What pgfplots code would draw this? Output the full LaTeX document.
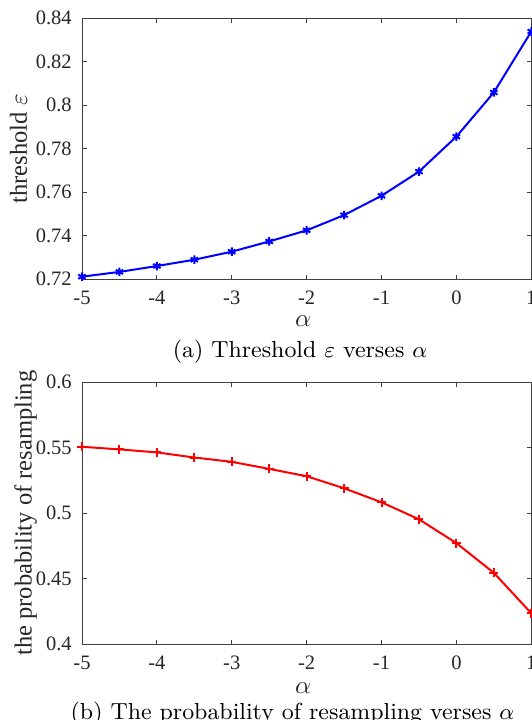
\documentclass[border=0pt]{standalone}
\usepackage{fontspec}
\newfontfamily\tnr{Liberation Serif}
\usepackage{pgfplots}
\pgfplotsset{compat=1.18}
\definecolor{axgray}{gray}{0.25}
\pgfplotsset{
  myaxis/.style={
    scale only axis,
    width=179.7pt,
    xmin=-5, xmax=1,
    xtick={-5,-4,-3,-2,-1,0,1},
    xticklabels={-5,-4,-3,-2,-1,0,1},
    tick align=inside,
    major tick length=1.8pt,
    axis line style={axgray, line width=0.4pt},
    every tick/.style={axgray, line width=0.4pt},
    tick label style={font=\tnr\fontsize{8.2}{9.8}\selectfont, text=black!85},
    xticklabel style={yshift=-1.2pt},
    yticklabel style={xshift=-0.6pt},
    label style={font=\tnr\fontsize{9.8}{11.5}\selectfont, text=black!85},
    xlabel style={at={(axis description cs:0.5,0)}, anchor=base, xshift=-1.4pt},
    ylabel style={at={(axis description cs:0,0.5)}, anchor=base},
    clip=false,
    /pgf/number format/assume math mode=true,
  }
}
\begin{document}
\begin{tikzpicture}
\useasboundingbox (0,0) rectangle (212.8pt,-288pt);
\begin{axis}[myaxis,
  at={(32.8pt,-111.72pt)}, anchor=south west,
  height=104.4pt,
  ymin=0.72, ymax=0.84,
  ytick={0.72,0.74,0.76,0.78,0.8,0.82,0.84},
  yticklabels={0.72,0.74,0.76,0.78,0.8,0.82,0.84},
  xlabel={$\alpha$},
  xlabel style={yshift=-18.9pt},
  ylabel={threshold $\varepsilon$},
  ylabel style={xshift=0pt, yshift=22pt},
]
\addplot[blue, line width=0.8pt, mark=asterisk, mark size=1.7pt, mark options={line width=0.8pt}] coordinates {
(-5,0.7212) (-4.5,0.7234) (-4,0.7261) (-3.5,0.7290) (-3,0.7327) (-2.5,0.7374)
(-2,0.7425) (-1.5,0.7495) (-1,0.7584) (-0.5,0.7695) (0,0.7856) (0.5,0.8059) (1,0.8339)
};
\end{axis}
\node[font=\fontsize{9.3}{11}\selectfont, anchor=base] at (120pt,-143.2pt) {(a) Threshold $\varepsilon$ verses $\alpha$};
\begin{axis}[myaxis,
  at={(32.8pt,-257.6pt)}, anchor=south west,
  height=104.7pt,
  ymin=0.4, ymax=0.6,
  ytick={0.4,0.45,0.5,0.55,0.6},
  yticklabels={0.4,0.45,0.5,0.55,0.6},
  xlabel={$\alpha$},
  xlabel style={yshift=-19.6pt},
  ylabel={the probability of resampling},
  ylabel style={yshift=20.2pt},
]
\addplot[red, line width=0.8pt, mark=+, mark size=1.8pt, mark options={line width=0.8pt}] coordinates {
(-5,0.5507) (-4.5,0.5487) (-4,0.5464) (-3.5,0.5425) (-3,0.5392) (-2.5,0.5338)
(-2,0.5282) (-1.5,0.5190) (-1,0.5083) (-0.5,0.4953) (0,0.4771) (0.5,0.4544) (1,0.4235)
};
\end{axis}
\node[font=\fontsize{9.3}{11}\selectfont, anchor=base] at (117pt,-287.6pt) {(b) The probability of resampling verses $\alpha$};
\end{tikzpicture}
\end{document}
